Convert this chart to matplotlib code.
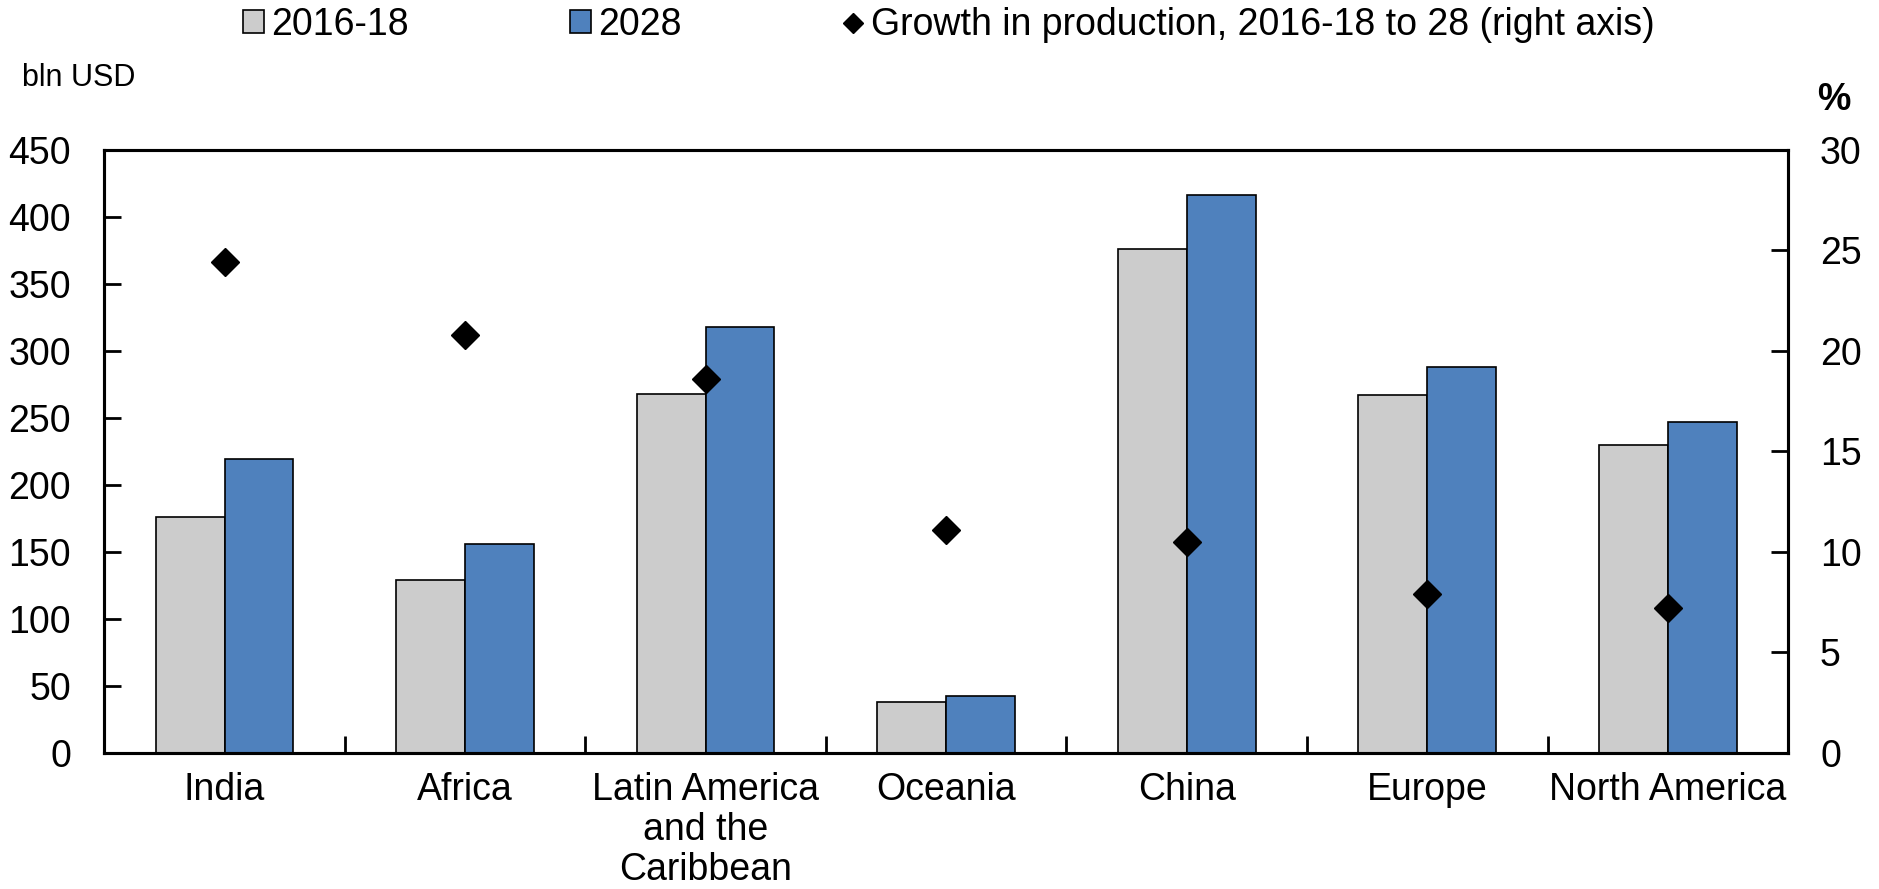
import numpy as np
import matplotlib
matplotlib.use("Agg")
import matplotlib.pyplot as plt
from matplotlib.patches import Patch
from matplotlib.lines import Line2D

plt.rcParams['font.family'] = ['Liberation Sans', 'DejaVu Sans']

regions = ["India", "Africa", "Latin America\nand the\nCaribbean", "Oceania",
           "China", "Europe", "North America"]
base_1618 = [176, 129, 268, 37.5, 376, 267, 230]
proj_2028 = [219, 156, 318, 42, 416, 288, 247]
growth = [24.4, 20.8, 18.6, 11.1, 10.5, 7.9, 7.2]

gray = "#CCCCCC"
blue = "#4F81BD"
fs = 27

fig = plt.figure(figsize=(18.79, 8.89), dpi=100)
ax = fig.add_axes([0.0555, 0.1534, 0.8961, 0.6781])
ax2 = ax.twinx()

x = np.arange(len(regions))
w = 0.286
ax.bar(x - w / 2, base_1618, w, color=gray, edgecolor="black", linewidth=1.2, zorder=2)
ax.bar(x + w / 2, proj_2028, w, color=blue, edgecolor="black", linewidth=1.2, zorder=2)
ax2.plot(x, growth, linestyle="none", marker="D", markersize=14, color="black", zorder=3)

ax.set_xlim(-0.5, len(regions) - 0.5)
ax.set_ylim(0, 450)
ax.set_yticks(np.arange(0, 451, 50))
ax2.set_ylim(0, 30)
ax2.set_yticks(np.arange(0, 31, 5))

ax.set_xticks(x)
ax.set_xticklabels(regions, fontsize=fs, linespacing=1.15)
ax.set_xticks(np.arange(0.5, len(regions) - 1, 1), minor=True)
ax.tick_params(axis="x", which="major", length=0, pad=14)
ax.tick_params(axis="x", which="minor", direction="in", length=12, width=2)
ax.tick_params(axis="y", direction="in", length=12, width=2, labelsize=fs, pad=24)
ax2.tick_params(axis="y", direction="in", length=12, width=2, labelsize=fs, pad=23)

for a in (ax, ax2):
    for s in a.spines.values():
        s.set_linewidth(2.2)

fig.text(0.0115, 0.912, "bln USD", fontsize=22, ha="left", va="center")
fig.text(0.976, 0.888, "%", fontsize=fs, ha="center", va="center", fontweight="bold")

handles = [
    Patch(facecolor=gray, edgecolor="black", linewidth=1.2, label="2016-18"),
    Patch(facecolor=blue, edgecolor="black", linewidth=1.2, label="2028"),
    Line2D([], [], linestyle="none", marker="D", markersize=10, color="black",
           label="Growth in production, 2016-18 to 28 (right axis)"),
]
fig.legend(handles=handles, loc="center", bbox_to_anchor=(0.505, 0.972), ncol=3,
           frameon=False, fontsize=fs, handlelength=0.55, handleheight=0.55,
           handletextpad=0.2, columnspacing=4.3, borderaxespad=0, borderpad=0)

fig.savefig("out.png", dpi=100)
